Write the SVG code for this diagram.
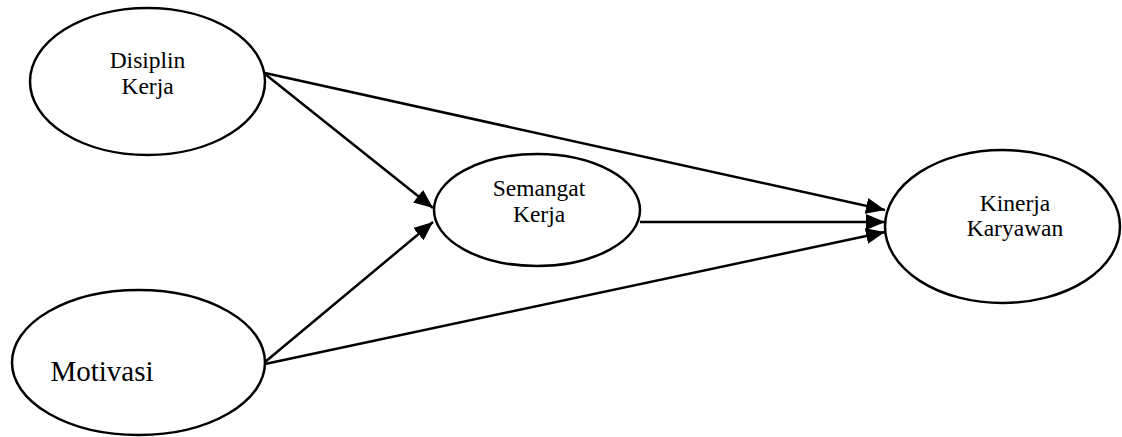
<svg xmlns="http://www.w3.org/2000/svg" width="1122" height="437" viewBox="0 0 1122 437">
  <style>
    .node ellipse { fill: #ffffff; stroke: #000000; stroke-width: 2.5; }
    .node text { font-family: "Liberation Serif", "Times New Roman", serif; fill: #000000; text-anchor: middle; }
    .small { font-size: 23.5px; }
    .large { font-size: 29px; }
    .edge { stroke: #000000; stroke-width: 2.5; fill: none; marker-end: url(#arrow); }
  </style>
  <defs>
    <marker id="arrow" markerUnits="userSpaceOnUse" markerWidth="20" markerHeight="16" refX="19" refY="8" orient="auto">
      <path d="M0,0 L19,8 L0,16 z" fill="#000000"/>
    </marker>
  </defs>
  <rect width="1122" height="437" fill="#ffffff"/>

  <g id="connectors">
    <line class="edge" x1="265" y1="73" x2="885" y2="210"/>
    <line class="edge" x1="265" y1="74" x2="433" y2="208"/>
    <line class="edge" x1="265" y1="362" x2="433" y2="222"/>
    <line class="edge" x1="265" y1="364" x2="885" y2="232"/>
    <line class="edge" x1="640" y1="222" x2="885" y2="222"/>
  </g>

  <g id="disiplin-kerja" class="node">
    <ellipse cx="147.5" cy="81.5" rx="117.5" ry="73.5"/>
    <text class="small" x="147.5" y="68">Disiplin</text>
    <text class="small" x="147.5" y="94">Kerja</text>
  </g>

  <g id="motivasi" class="node">
    <ellipse cx="138.5" cy="362.5" rx="126.5" ry="72.5"/>
    <text class="large" x="102" y="381">Motivasi</text>
  </g>

  <g id="semangat-kerja" class="node">
    <ellipse cx="537" cy="210" rx="103" ry="56"/>
    <text class="small" x="539" y="196">Semangat</text>
    <text class="small" x="539" y="222">Kerja</text>
  </g>

  <g id="kinerja-karyawan" class="node">
    <ellipse cx="1002.5" cy="226.5" rx="117.5" ry="76.5"/>
    <text class="small" x="1015" y="211">Kinerja</text>
    <text class="small" x="1015" y="236">Karyawan</text>
  </g>
</svg>
